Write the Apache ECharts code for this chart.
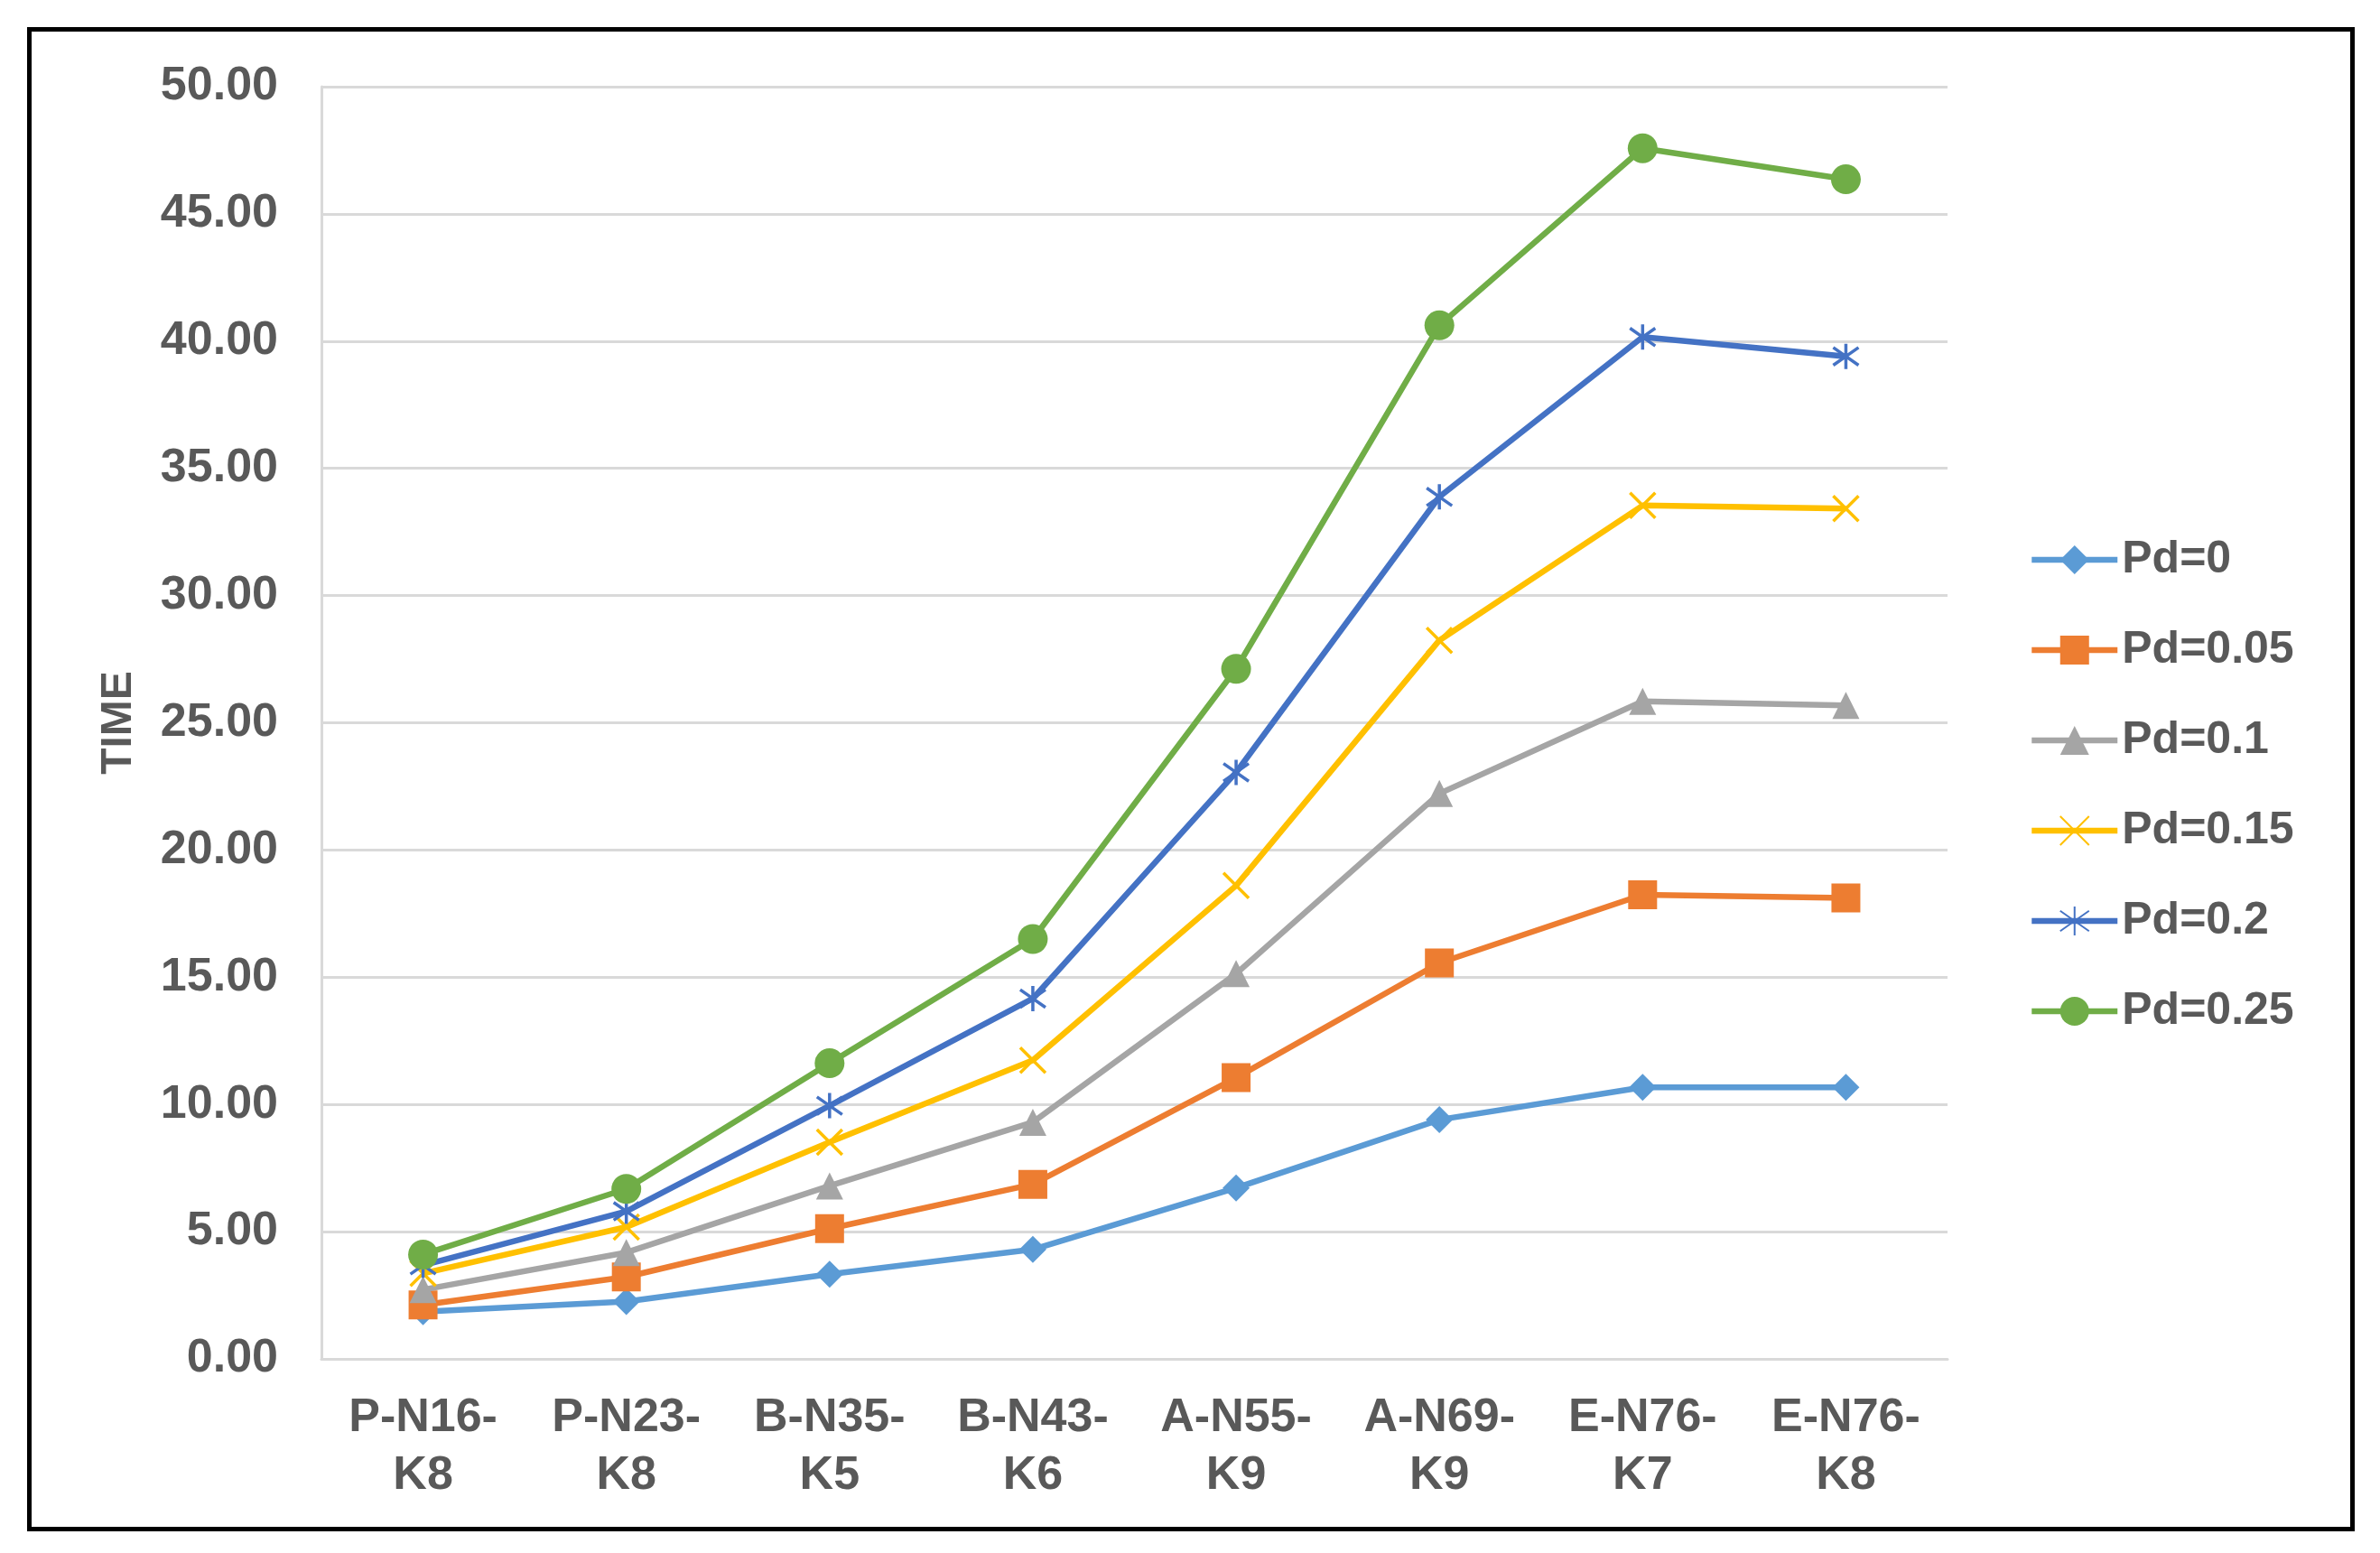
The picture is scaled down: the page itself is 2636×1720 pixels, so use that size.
<!DOCTYPE html>
<html>
<head>
<meta charset="utf-8">
<script src="https://cdn.jsdelivr.net/npm/echarts@6/dist/echarts.min.js"></script>
<style>
html,body{margin:0;padding:0;background:#fff;}
#chart{width:2636px;height:1720px;}
</style>
</head>
<body>
<div id="chart"></div>
<script>
const categories = ["P-N16-K8","P-N23-K8","B-N35-K5","B-N43-K6","A-N55-K9","A-N69-K9","E-N76-K7","E-N76-K8"];
const yTicks = [0,5,10,15,20,25,30,35,40,45,50];
const seriesNames = ["Pd=0","Pd=0.05","Pd=0.1","Pd=0.15","Pd=0.2","Pd=0.25"];
const pd0   = [1.85, 2.25, 3.33, 4.3, 6.72, 9.4, 10.67, 10.67];
const pd005 = [2.12, 3.22, 5.12, 6.86, 11.05, 15.56, 18.24, 18.12];
const pd01  = [2.72, 4.18, 6.8, 9.3, 15.14, 22.22, 25.84, 25.68];
const pd015 = [3.36, 5.18, 8.52, 11.74, 18.6, 28.24, 33.54, 33.42];
const pd02  = [3.68, 5.8, 9.95, 14.16, 23.05, 33.88, 40.16, 39.4];
const pd025 = [4.1, 6.68, 11.62, 16.5, 27.12, 40.62, 47.58, 46.36];
const colors = ["#5B9BD5","#ED7D31","#A5A5A5","#FFC000","#4472C4","#70AD47"];

const allData = [pd0, pd005, pd01, pd015, pd02, pd025];
const symbols = ['diamond','rect','triangle','path://M0,0 L10,10 M10,0 L0,10','path://M5,0 L5,10 M0,1.5 L10,8.5 M10,1.5 L0,8.5','circle'];
const symSizes = [30, 32, 30, 28, 28, 33];
const textColor = '#595959';
const font = 'Liberation Sans, Arial, sans-serif';

const series = allData.map((d, i) => {
  const stroked = (i === 3 || i === 4);
  return {
    name: seriesNames[i],
    type: 'line',
    data: d,
    symbol: symbols[i],
    symbolSize: symSizes[i],
    showAllSymbol: true,
    lineStyle: {color: colors[i], width: 6.5},
    itemStyle: stroked ? {color: colors[i], borderColor: colors[i], borderWidth: 3.5} : {color: colors[i], borderWidth: 0},
    emphasis: {disabled: true},
    z: 2 + i
  };
});

const chart = echarts.init(document.getElementById('chart'), null, {renderer: 'canvas'});
chart.setOption({
  animation: false,
  backgroundColor: '#fff',
  color: colors,
  textStyle: {fontFamily: font},
  graphic: [{
    type: 'rect',
    shape: {x: 32.5, y: 32.5, width: 2573, height: 1661},
    style: {fill: 'none', stroke: '#000', lineWidth: 5},
    silent: true
  }],
  grid: {left: 356, top: 96, right: 479, bottom: 215, containLabel: false},
  legend: {
    orient: 'vertical',
    left: 2242,
    top: 590,
    itemWidth: 95,
    itemHeight: 40,
    itemGap: 50,
    lineStyle: {width: 6.5},
    textStyle: {color: textColor, fontSize: 50, fontWeight: 'bold', fontFamily: font, lineHeight: 50},
    data: seriesNames
  },
  xAxis: {
    type: 'category',
    data: categories,
    boundaryGap: true,
    axisLine: {show: true, lineStyle: {color: '#D9D9D9', width: 3}},
    axisTick: {show: false},
    axisLabel: {
      color: textColor, fontSize: 52, fontWeight: 'bold', fontFamily: font,
      lineHeight: 64, margin: 34, interval: 0,
      formatter: v => { const k = v.lastIndexOf('-'); return v.slice(0, k + 1) + '\n' + v.slice(k + 1); }
    }
  },
  yAxis: {
    type: 'value',
    min: yTicks[0],
    max: yTicks[yTicks.length - 1],
    interval: yTicks[1] - yTicks[0],
    name: 'TIME',
    nameLocation: 'middle',
    nameGap: 200,
    nameTextStyle: {color: textColor, fontSize: 48, fontWeight: 'bold', fontFamily: font},
    axisLine: {show: true, lineStyle: {color: '#D9D9D9', width: 3}},
    axisTick: {show: false},
    splitLine: {show: true, lineStyle: {color: '#D9D9D9', width: 3}},
    axisLabel: {
      color: textColor, fontSize: 52, fontWeight: 'bold', fontFamily: font, margin: 48,
      formatter: v => v.toFixed(2)
    }
  },
  series: series
});
</script>
</body>
</html>
